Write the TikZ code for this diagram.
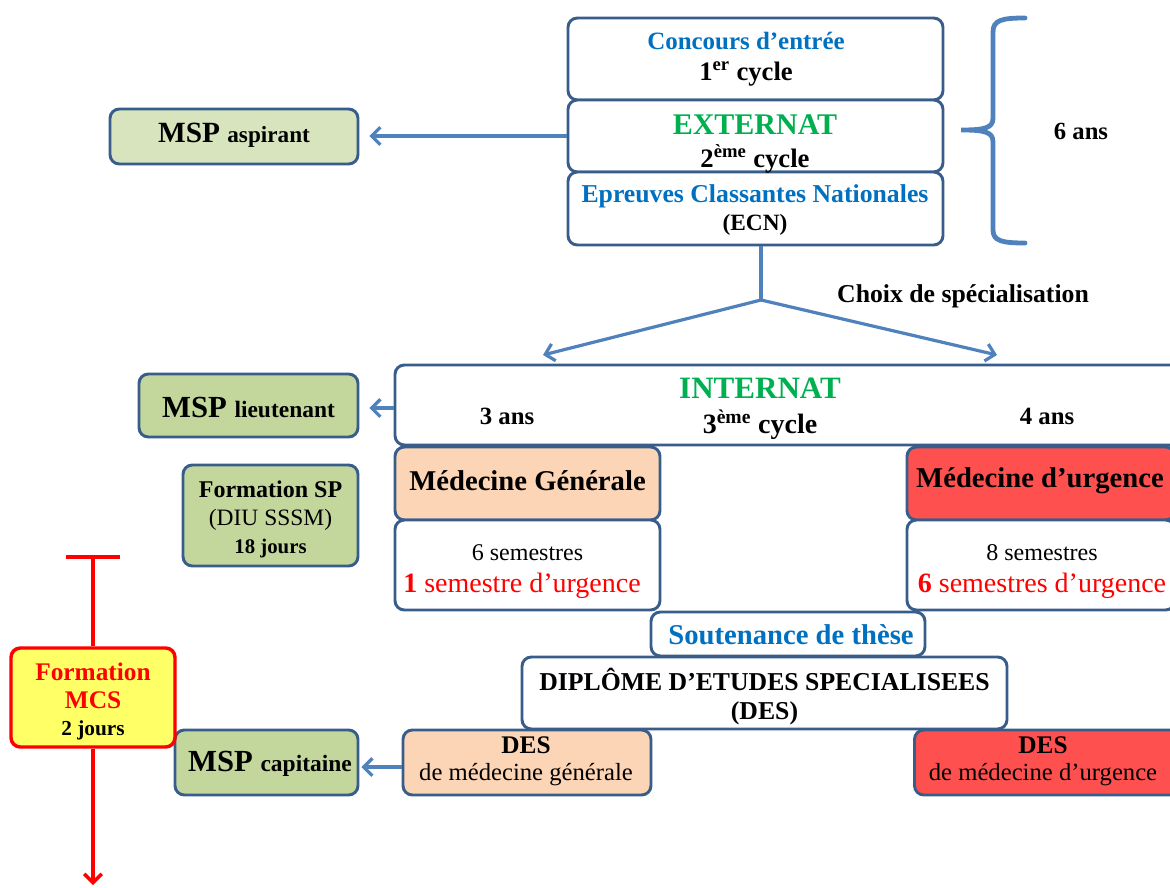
\documentclass[tikz,border=0pt]{standalone}
\usepackage{fontspec}
\setmainfont{Liberation Serif}
\usetikzlibrary{arrows.meta}
\definecolor{bord}{HTML}{385D8A}
\definecolor{arrowblue}{HTML}{4F81BD}
\definecolor{txtblue}{HTML}{0070C0}
\definecolor{txtgreen}{HTML}{00B050}
\definecolor{lgreen}{HTML}{D7E4BD}
\definecolor{mgreen}{HTML}{C3D69B}
\definecolor{peach}{HTML}{FBD5B5}
\definecolor{redfill}{HTML}{FF5050}
\definecolor{yellowfill}{HTML}{FFFF66}
\definecolor{pured}{HTML}{FF0000}
\newcommand{\fs}[1]{\fontsize{#1}{#1}\selectfont}
\begin{document}
\begin{tikzpicture}[x=0.75pt,y=-0.75pt,
  box/.style={draw=bord, line width=2.2pt, rounded corners=7pt, fill=white, inner sep=0pt, align=center},
  lbl/.style={inner sep=0pt, align=center},
  conn/.style={draw=arrowblue, line width=2.4pt, -{Straight Barb[length=6.5pt,width=13pt,line width=2.4pt]}},
  redline/.style={draw=pured, line width=2.6pt}]
\useasboundingbox (0,0) rectangle (1170,888);
\clip (0,0) rectangle (1170,888);
% top stack
\node[box, minimum width=281.25pt, minimum height=61.5pt] (conc) at (755.5,59) {};
\node[box, minimum width=281.25pt, minimum height=54pt] (ext) at (755.5,136) {};
\node[box, minimum width=281.25pt, minimum height=54.75pt] (ecn) at (755.5,208.5) {};
\node[lbl, text=txtblue, font=\fs{18.7}\bfseries] (t1) at (746,41) {Concours d’entrée};
\node[lbl, font=\fs{20}\bfseries] (t2) at (746,74) {1\textsuperscript{er} cycle};
\node[lbl, text=txtgreen, font=\fs{22.5}\bfseries] (t3) at (755,125) {EXTERNAT};
\node[lbl, font=\fs{20}\bfseries] (t4) at (755,159) {2\textsuperscript{ème} cycle};
\node[lbl, text=txtblue, font=\fs{19.3}\bfseries] (t5) at (755,196) {Epreuves Classantes Nationales};
\node[lbl, font=\fs{17.5}\bfseries] (t6) at (755,225) {(ECN)};
% brace
\draw[draw=arrowblue, line width=3.6pt, line cap=round]
  (1025,18) .. controls (1002,18) and (993,20) .. (993,32) -- (993,118)
  .. controls (993,128) and (985,130) .. (961,130)
  .. controls (985,130) and (993,132) .. (993,142) -- (993,230)
  .. controls (993,241) and (1002,243) .. (1025,243);
\node[lbl, font=\fs{18.5}\bfseries] (sixans) at (1081,131) {6 ans};
% MSP aspirant
\node[box, fill=lgreen, minimum width=186pt, minimum height=41.25pt] (asp) at (234,136.5) {};
\node[lbl, font=\bfseries] (aspt) at (234,135) {\fs{22}MSP \fs{17.4}aspirant};
\draw[conn] (ext.west |- 0,136) -- ([xshift=7.5pt]asp.east |- 0,136);
% choice
\coordinate (fork) at (761,300);
\draw[draw=arrowblue, line width=2.4pt] (fork |- ecn.south) -- (fork);
\node[lbl, font=\fs{19.3}\bfseries] (choix) at (963,296) {Choix de spécialisation};
% internat
\node[box, minimum width=592.5pt, minimum height=60pt] (intern) at (790,405) {};
\coordinate (lend) at (543,355);
\coordinate (rend) at (997,355);
\draw[conn] (fork) -- (lend);
\draw[conn] (fork) -- (rend);
\node[lbl, text=txtgreen, font=\fs{23.3}\bfseries] (t7) at (760,388) {INTERNAT};
\node[lbl, font=\fs{18.6}\bfseries] (t8) at (507,416) {3 ans};
\node[lbl, font=\fs{21}\bfseries] (t9) at (760,425) {3\textsuperscript{ème} cycle};
\node[lbl, font=\fs{18.6}\bfseries] (t10) at (1047,416) {4 ans};
% MSP lieutenant
\node[box, fill=mgreen, minimum width=164.25pt, minimum height=47.25pt] (lieut) at (248.5,405.5) {};
\node[lbl, font=\bfseries] (lieutt) at (248.5,407) {\fs{23}MSP \fs{17.6}lieutenant};
\draw[conn] (intern.west |- 0,408) -- ([xshift=7.5pt]lieut.east |- 0,408);
% formation SP
\node[box, fill=mgreen, minimum width=131.25pt, minimum height=75.75pt] (fsp) at (270.5,515.5) {};
\node[lbl, font=\fs{18}\bfseries] (f1) at (270.5,489) {Formation SP};
\node[lbl, font=\fs{17.6}] (f2) at (270.5,520) {(DIU SSSM)};
\node[lbl, font=\fs{15.6}\bfseries] (f3) at (270.5,548) {18 jours};
% specialties
\node[box, fill=peach, minimum width=198.75pt, minimum height=54.75pt] (mg) at (527.5,483.5) {};
\node[lbl, font=\fs{21.5}\bfseries] (mgt) at (527.5,481) {Médecine Générale};
\node[box, fill=redfill, minimum width=201pt, minimum height=54.75pt] (mu) at (1041,483.5) {};
\node[lbl, font=\fs{21.5}\bfseries] (mut) at (1040,481) {Médecine d’urgence};
\node[box, minimum width=198.75pt, minimum height=67.5pt] (sem6) at (527.5,565) {};
\node[lbl, font=\fs{18}] (s1) at (527.5,553) {6 semestres};
\node[lbl, font=\fs{21}, text=pured] (s2) at (522,586) {\textbf{1} semestre d’urgence};
\node[box, minimum width=201pt, minimum height=67.5pt] (sem8) at (1041,565) {};
\node[lbl, font=\fs{18}] (s3) at (1042,553) {8 semestres};
\node[lbl, font=\fs{21}, text=pured] (s4) at (1042,586) {\textbf{6} semestres d’urgence};
% thesis / diploma
\node[box, minimum width=205.5pt, minimum height=33pt] (sout) at (788,634) {};
\node[lbl, text=txtblue, font=\fs{21.5}\bfseries] (soutt) at (791,635) {Soutenance de thèse};
\node[box, minimum width=363.75pt, minimum height=54pt] (dipl) at (764.5,693) {};
\node[lbl, font=\fs{19.3}\bfseries] (dip1) at (764.5,679) {DIPLÔME D’ETUDES SPECIALISEES};
\node[lbl, font=\fs{19.3}\bfseries] (dip2) at (764.5,713) {(DES)};
% DES
\node[box, fill=peach, minimum width=186pt, minimum height=48.75pt] (desmg) at (527,762.5) {};
\node[lbl, font=\fs{19}\bfseries] (d1) at (526,745) {DES};
\node[lbl, font=\fs{18.5}] (d2) at (526,775) {de médecine générale};
\node[box, fill=redfill, minimum width=198.75pt, minimum height=48.75pt] (desmu) at (1047,762.5) {};
\node[lbl, font=\fs{19}\bfseries] (d3) at (1043,745) {DES};
\node[lbl, font=\fs{18.5}] (d4) at (1043,775) {de médecine d’urgence};
% MSP capitaine
\node[box, fill=mgreen, minimum width=137.25pt, minimum height=48.75pt] (cap) at (266.5,762.5) {};
\node[lbl, font=\bfseries] (capt) at (270,764) {\fs{23}MSP \fs{17.6}capitaine};
\draw[conn] (desmg.west |- 0,767) -- ([xshift=1.5pt]cap.east |- 0,767);
% formation MCS
\node[box, draw=pured, fill=yellowfill, line width=2.6pt, minimum width=123pt, minimum height=74.25pt] (mcs) at (93,697.5) {};
\node[lbl, text=pured, font=\fs{19}\bfseries] (m1) at (93,672) {Formation};
\node[lbl, text=pured, font=\fs{19}\bfseries] (m2) at (93,700) {MCS};
\node[lbl, font=\fs{16}\bfseries] (m3) at (93,730) {2 jours};
\coordinate (ttop) at (93,557);
\coordinate (tl) at (66,557);
\coordinate (tr) at (120,557);
\coordinate (bottom) at (93,885);
\draw[redline] (tl) -- (tr);
\draw[redline] (ttop) -- (mcs.north);
\draw[redline, -{Straight Barb[length=6.5pt,width=13pt,line width=2.6pt]}] (mcs.south) -- (bottom);
\end{tikzpicture}
\end{document}
